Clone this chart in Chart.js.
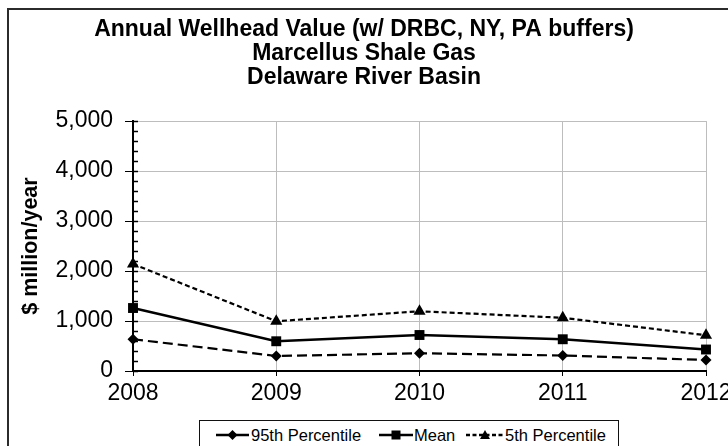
<!DOCTYPE html>
<html>
<head>
<meta charset="utf-8">
<script src="https://cdn.jsdelivr.net/npm/chart.js@4/dist/chart.umd.min.js"></script>
<style>
  html, body { margin: 0; padding: 0; background: #fff; overflow: hidden; }
  #wrap { position: relative; width: 728px; height: 446px; overflow: hidden; }
  #frame { position: absolute; left: 7px; top: 8px; width: 800px; height: 600px;
           border-left: 2px solid #2b2b2b; border-top: 2px solid #2b2b2b; }
  #c { position: absolute; left: 0; top: 0; }
  #legend { position: absolute; left: 199px; top: 420px; width: 420px; height: 40px;
            border: 1.5px solid #111; background: #fff; box-sizing: border-box; }
  .item { position: absolute; top: 0; height: 28px; font-family: "Liberation Sans", Arial, sans-serif;
          font-size: 16.5px; color: #000; white-space: nowrap; }
  .item svg { position: absolute; top: 0; }
  .item span { position: absolute; top: 4px; line-height: 20px; }
</style>
</head>
<body>
<div id="wrap">
  <div id="frame"></div>
  <canvas id="c" width="728" height="446"></canvas>
  <div id="legend"></div>
</div>
<script>
// ---- data ----
const years = ['2008', '2009', '2010', '2011', '2012'];
const p95 = [635, 300, 355, 310, 220];
const meanVals = [1260, 595, 720, 635, 430];
const p5 = [2140, 995, 1195, 1065, 715];
const titleLines = ['Annual Wellhead Value (w/ DRBC, NY, PA buffers)', 'Marcellus Shale Gas', 'Delaware River Basin'];
const yTitle = '$ million/year';
const seriesNames = ['95th Percentile', 'Mean', '5th Percentile'];

const FONT = '"Liberation Sans", Arial, sans-serif';

const minorTicks = {
  id: 'minorTicks',
  beforeDatasetsDraw(chart) {
    const y = chart.scales.y;
    const ctx = chart.ctx;
    const x0 = chart.chartArea.left;
    ctx.save();
    ctx.strokeStyle = '#000';
    ctx.lineWidth = 1.5;
    for (let v = 0; v <= 5000; v += 200) {
      const py = Math.round(y.getPixelForValue(v)) + 0.5;
      ctx.beginPath();
      ctx.moveTo(x0, py);
      ctx.lineTo(x0 + 5, py);
      ctx.stroke();
    }
    ctx.restore();
  }
};

const ctx = document.getElementById('c').getContext('2d');
new Chart(ctx, {
  type: 'line',
  data: {
    labels: years,
    datasets: [
      { label: seriesNames[0], data: p95, borderColor: '#000', backgroundColor: '#000',
        borderWidth: 2.2, borderDash: [10, 5], pointStyle: 'rectRot', pointRadius: 5.5,
        pointBorderWidth: 0, pointBackgroundColor: '#000', tension: 0, clip: false },
      { label: seriesNames[1], data: meanVals, borderColor: '#000', backgroundColor: '#000',
        borderWidth: 2.5, pointStyle: 'rect', pointRadius: 7,
        pointBorderWidth: 0, pointBackgroundColor: '#000', tension: 0, clip: false },
      { label: seriesNames[2], data: p5, borderColor: '#000', backgroundColor: '#000',
        borderWidth: 2.2, borderDash: [5, 3], pointStyle: 'triangle', pointRadius: 7,
        pointBorderWidth: 0, pointBackgroundColor: '#000', tension: 0, clip: false }
    ]
  },
  options: {
    responsive: false,
    animation: false,
    devicePixelRatio: 1,
    layout: { padding: 0 },
    plugins: {
      legend: { display: false },
      tooltip: { enabled: false },
      title: {
        display: true,
        text: titleLines,
        color: '#000',
        font: { family: FONT, size: 23, weight: 'bold', lineHeight: 1.03 },
        padding: { top: 18, bottom: 32 }
      }
    },
    scales: {
      x: {
        offset: false,
        grid: { color: '#bdbdbd', lineWidth: 1, tickLength: 5, tickColor: '#000', drawTicks: true },
        border: { color: '#000', width: 2 },
        ticks: { color: '#000', font: { family: FONT, size: 23 }, padding: 4, maxRotation: 0, autoSkip: false },
        afterFit(s) { s.height = 75; s.paddingRight = 22; s.paddingLeft = 0; }
      },
      y: {
        min: 0, max: 5000,
        grid: { color: '#bdbdbd', lineWidth: 1, tickLength: 8, tickColor: '#000' },
        border: { color: '#000', width: 2 },
        ticks: { stepSize: 1000, color: '#000', font: { family: FONT, size: 23 }, padding: 12 },
        title: { display: true, text: yTitle, color: '#000', font: { family: FONT, size: 21.5, weight: 'bold' }, padding: { top: 18, bottom: 0 } },
        afterFit(s) { s.width = 133; }
      }
    }
  },
  plugins: [minorTicks]
});

// ---- HTML legend ----
const legend = document.getElementById('legend');
const items = [
  { name: seriesNames[0], left: 16, lineEnd: 49, textLeft: 51, marker: 'diamond', dash: '' },
  { name: seriesNames[1], left: 179, lineEnd: 213, textLeft: 214, marker: 'square', dash: '' },
  { name: seriesNames[2], left: 266, lineEnd: 304, textLeft: 305, marker: 'triangle', dash: '4,2.5' }
];
items.forEach(it => {
  const d = document.createElement('div');
  d.className = 'item';
  d.style.left = '0px';
  const w = it.lineEnd - it.left;
  const cx = it.left + w / 2;
  let m = '';
  if (it.marker === 'diamond') m = `<polygon points="${cx-5},14 ${cx},9 ${cx+5},14 ${cx},19" fill="#000"/>`;
  if (it.marker === 'square') m = `<rect x="${cx-4.5}" y="9.5" width="9" height="9" fill="#000"/>`;
  if (it.marker === 'triangle') m = `<polygon points="${cx-5},18 ${cx},9 ${cx+5},18" fill="#000"/>`;
  d.innerHTML = `<svg width="420" height="28" style="left:0"><line x1="${it.left}" y1="14" x2="${it.lineEnd}" y2="14" stroke="#000" stroke-width="2.4" ${it.dash ? `stroke-dasharray="${it.dash}"` : ''}/>${m}</svg><span style="left:${it.textLeft}px">${it.name}</span>`;
  legend.appendChild(d);
});
</script>
</body>
</html>
